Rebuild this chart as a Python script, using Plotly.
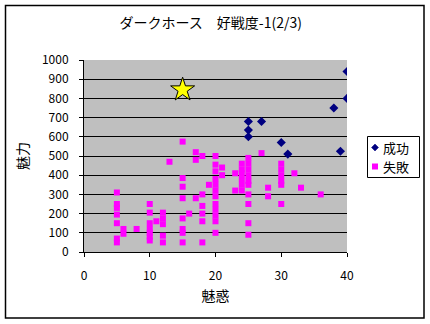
import plotly.graph_objects as go

# Success (成功)
succ_x = [25, 25, 25, 27, 30, 31, 38, 39, 40, 40]
succ_y = [680, 635, 600, 680, 570, 510, 750, 525, 940, 800]

# Failure (失敗)
fail_cols = {
    5: [310, 250, 230, 195, 150, 70, 50],
    6: [120, 95],
    8: [120],
    10: [250, 205, 150, 120, 100, 80, 60],
    11: [160],
    12: [205, 175, 145, 85, 50],
    13: [470],
    15: [575, 385, 340, 280, 175, 120, 100, 50],
    16: [200],
    17: [520, 480, 280],
    18: [500, 300, 240, 200, 160, 50],
    19: [350],
    20: [500, 455, 420, 380, 350, 320, 290, 250, 220, 190, 160, 100],
    21: [440, 400],
    23: [410, 320],
    24: [460, 430, 410, 380, 350, 320],
    25: [490, 460, 430, 400, 370, 350, 300, 250, 150, 90],
    27: [515],
    28: [335, 290],
    30: [460, 430, 400, 370, 350, 250],
    32: [410],
    33: [335],
    36: [300],
}
fail_x = [k for k, vs in fail_cols.items() for _ in vs]
fail_y = [v for vs in fail_cols.values() for v in vs]

# Highlight star
star_x = [15]
star_y = [845]

series_names = ["成功", "失敗"]
series_colors = ["#000080", "#ff00ff"]

title_text = "ダークホース　好戦度-1(2/3)"
x_title = "魅惑"
y_title = "魅力"

FONT = "Noto Sans CJK JP"

fig = go.Figure()
fig.add_trace(go.Scatter(x=succ_x, y=succ_y, mode="markers", name=series_names[0], showlegend=False,
                         marker=dict(symbol="diamond", size=7, color=series_colors[0])))
fig.add_trace(go.Scatter(x=fail_x, y=fail_y, mode="markers", name=series_names[1], showlegend=False,
                         marker=dict(symbol="square", size=6, color=series_colors[1])))
fig.add_trace(go.Scatter(x=star_x, y=star_y, mode="markers", name="★", showlegend=False,
                         marker=dict(symbol="star", size=18, color="#ffff00",
                                     line=dict(color="black", width=1))))

L, R, T, B = 84, 83, 60, 72
W, H = 430, 324
pw, ph = W - L - R, H - T - B

def px2paper_x(px):
    return (px - L) / pw

def px2paper_y(py):
    return (H - B - py) / ph

shapes = [
    # outer chart border
    dict(type="rect", xref="paper", yref="paper",
         x0=px2paper_x(5.5), x1=px2paper_x(424), y0=px2paper_y(318), y1=px2paper_y(5.5),
         line=dict(color="black", width=1.5), fillcolor="rgba(0,0,0,0)", layer="below"),
    # legend box
    dict(type="rect", xref="paper", yref="paper",
         x0=px2paper_x(367.5), x1=px2paper_x(419.5), y0=px2paper_y(177.5), y1=px2paper_y(136.5),
         line=dict(color="black", width=1), fillcolor="white"),
]
# legend symbols
cx, cy1, cy2 = 375, 147.5, 166.5
d = 3.5
shapes.append(dict(type="path", xref="paper", yref="paper",
                   path="M {} {} L {} {} L {} {} L {} {} Z".format(
                       px2paper_x(cx - d), px2paper_y(cy1), px2paper_x(cx), px2paper_y(cy1 - d),
                       px2paper_x(cx + d), px2paper_y(cy1), px2paper_x(cx), px2paper_y(cy1 + d)),
                   fillcolor=series_colors[0], line=dict(color=series_colors[0], width=0.5)))
s = 3
shapes.append(dict(type="rect", xref="paper", yref="paper",
                   x0=px2paper_x(cx - s), x1=px2paper_x(cx + s),
                   y0=px2paper_y(cy2 + s), y1=px2paper_y(cy2 - s),
                   fillcolor=series_colors[1], line=dict(width=0)))

annotations = [
    dict(text=series_names[0], xref="paper", yref="paper", x=px2paper_x(381), y=px2paper_y(cy1),
         xanchor="left", yanchor="middle", showarrow=False, font=dict(size=13)),
    dict(text=series_names[1], xref="paper", yref="paper", x=px2paper_x(381), y=px2paper_y(cy2),
         xanchor="left", yanchor="middle", showarrow=False, font=dict(size=13)),
]

fig.update_layout(
    width=W, height=H,
    margin=dict(l=L, r=R, t=T, b=B, autoexpand=False),
    paper_bgcolor="white",
    plot_bgcolor="#bfbfbf",
    font=dict(family=FONT, size=12, color="black"),
    showlegend=False,
    title=dict(text=title_text, x=0.49, xanchor="center", y=1 - 23 / H, yanchor="middle",
               font=dict(family=FONT, size=14, color="black")),
    xaxis=dict(range=[0, 40], tickvals=[0, 10, 20, 30, 40], showgrid=False,
               showline=True, linecolor="black", linewidth=1,
               ticks="outside", ticklen=4, tickcolor="black",
               ticklabelstandoff=9, zeroline=False,
               title=dict(text=x_title, standoff=8, font=dict(size=14))),
    yaxis=dict(range=[0, 1000], dtick=100, showgrid=True, gridcolor="black", gridwidth=1,
               showline=True, linecolor="black", linewidth=1,
               ticks="outside", ticklen=4, tickcolor="black",
               ticklabelstandoff=8, zeroline=False,
               title=dict(text=y_title, standoff=10, font=dict(size=14))),
    shapes=shapes,
    annotations=annotations,
)

fig.write_html("out.html")
